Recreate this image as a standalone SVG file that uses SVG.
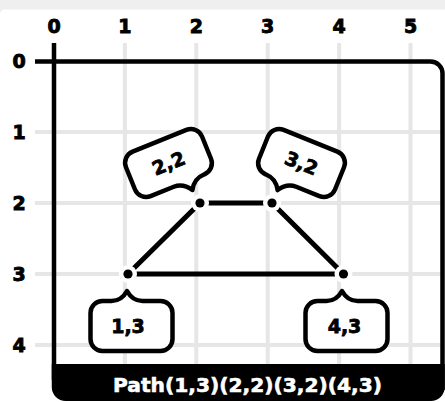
<svg xmlns="http://www.w3.org/2000/svg" width="445" height="402" viewBox="0 0 445 402">
  <style>
    .lbl { font-family: "DejaVu Sans", "Liberation Sans", sans-serif; font-weight: bold; font-size: 19px; fill: #000; stroke: #000; stroke-width: 0.9; text-anchor: middle; }
    .grid { stroke: #e6e6e6; stroke-width: 4; fill: none; }
    .axis { stroke: #000; stroke-width: 4.5; fill: none; }
    .edge { stroke: #000; stroke-width: 5; fill: none; stroke-linejoin: miter; }
    .bubble { fill: #fff; stroke: #000; stroke-width: 4.5; stroke-linejoin: round; }
    .btxt { font-family: "DejaVu Sans", "Liberation Sans", sans-serif; font-weight: bold; font-size: 19px; fill: #000; stroke: #000; stroke-width: 0.8; text-anchor: middle; }
    .halo { fill: #fff; }
    .dot { fill: #000; }
  </style>
  <rect x="0" y="0" width="445" height="402" fill="#efefef"/>
  <path d="M5,9.5 H445 V402 H0 V14.5 A5,5 0 0 1 5,9.5 Z" fill="#fff"/>

  <g id="grid">
    <path class="grid" d="M124.9,43 V364 M196.3,43 V364 M267.7,43 V364 M339.1,43 V364 M410.5,43 V364"/>
    <path class="grid" d="M35,132 H442 M35,203 H442 M35,274 H442 M35,345 H442"/>
  </g>

  <g id="axis-labels">
    <text class="lbl" x="54" y="33">0</text>
    <text class="lbl" x="124.9" y="33">1</text>
    <text class="lbl" x="196.3" y="33">2</text>
    <text class="lbl" x="267.7" y="33">3</text>
    <text class="lbl" x="339.1" y="33">4</text>
    <text class="lbl" x="410.5" y="33">5</text>
    <text class="lbl" x="19" y="68">0</text>
    <text class="lbl" x="19" y="139">1</text>
    <text class="lbl" x="19" y="210">2</text>
    <text class="lbl" x="19" y="281">3</text>
    <text class="lbl" x="19" y="352">4</text>
  </g>

  <g id="frame">
    <path class="axis" d="M35,61.5 H430.5 A12,12 0 0 1 442.5,73.5 V390"/>
    <path class="axis" d="M54,43 V380"/>
    <path d="M51.75,364 H444.75 V387 A14,14 0 0 1 430.75,401 H65.75 A14,14 0 0 1 51.75,387 Z" fill="#000"/>
    <text x="247.5" y="392" font-family="DejaVu Sans, Liberation Sans, sans-serif" font-weight="bold" font-size="20" fill="#fff" stroke="#fff" stroke-width="0.6" text-anchor="middle" textLength="269" lengthAdjust="spacingAndGlyphs">Path(1,3)(2,2)(3,2)(4,3)</text>
  </g>

  <g id="connectors">
    <path class="edge" d="M128,274 L200,203 L272,203 L343.5,274 Z"/>
  </g>

  <g id="p13">
    <circle class="halo" cx="128" cy="274" r="9"/>
    <circle class="dot" cx="128" cy="274" r="4.6"/>
  </g>
  <g id="p22">
    <circle class="halo" cx="200" cy="203" r="9"/>
    <circle class="dot" cx="200" cy="203" r="4.6"/>
  </g>
  <g id="p32">
    <circle class="halo" cx="272" cy="203" r="9"/>
    <circle class="dot" cx="272" cy="203" r="4.6"/>
  </g>
  <g id="p43">
    <circle class="halo" cx="343.5" cy="274" r="9"/>
    <circle class="dot" cx="343.5" cy="274" r="4.6"/>
  </g>

  <g id="label13" transform="translate(131.5,326)">
    <path class="bubble" d="M-29,-25 H-20 Q-10,-25 -4.5,-35 Q1,-25 11,-25 H29 A12,12 0 0 1 41,-13 V13 A12,12 0 0 1 29,25 H-29 A12,12 0 0 1 -41,13 V-13 A12,12 0 0 1 -29,-25 Z"/>
    <text class="btxt" x="-3.5" y="7">1,3</text>
  </g>
  <g id="label43" transform="translate(346.5,326)">
    <path class="bubble" d="M-29,-25 H-20 Q-10,-25 -4.5,-35 Q1,-25 11,-25 H29 A12,12 0 0 1 41,-13 V13 A12,12 0 0 1 29,25 H-29 A12,12 0 0 1 -41,13 V-13 A12,12 0 0 1 -29,-25 Z"/>
    <text class="btxt" x="-2" y="7">4,3</text>
  </g>
  <g id="label22" transform="translate(168.5,163) rotate(-22)">
    <path class="bubble" d="M-29,-24 H29 A12,12 0 0 1 41,-12 V12 A12,12 0 0 1 29,24 H28 Q18,24 12,34 Q6,24 -4,24 H-29 A12,12 0 0 1 -41,12 V-12 A12,12 0 0 1 -29,-24 Z"/>
    <text class="btxt" x="0" y="7">2,2</text>
  </g>
  <g id="label32" transform="translate(301.5,163) rotate(22)">
    <path class="bubble" d="M-29,-24 H29 A12,12 0 0 1 41,-12 V12 A12,12 0 0 1 29,24 H4 Q-6,24 -12,34 Q-18,24 -28,24 H-29 A12,12 0 0 1 -41,12 V-12 A12,12 0 0 1 -29,-24 Z"/>
    <text class="btxt" x="0" y="7">3,2</text>
  </g>
</svg>
